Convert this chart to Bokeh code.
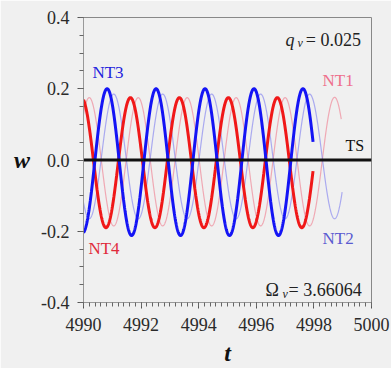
import numpy as np
from bokeh.plotting import figure
from bokeh.models import FixedTicker, Range1d
from bokeh.core.properties import value
from bokeh.embed import file_html
from bokeh.resources import INLINE

# ---- data: extrema (time, w) of each response ----
nt3_t = [4989.97, 4990.82, 4991.67, 4992.52, 4993.37, 4994.22, 4995.07, 4995.92, 4996.77, 4997.62, 4998.47]
nt3_w = [-0.205, 0.200, -0.212, 0.200, -0.212, 0.200, -0.212, 0.200, -0.212, 0.200, -0.210]
nt3_range = [4990.0, 4997.97]

nt4_t = [4989.93, 4990.78, 4991.63, 4992.48, 4993.33, 4994.18, 4995.03, 4995.88, 4996.73, 4997.58, 4998.43]
nt4_w = [0.175, -0.190, 0.175, -0.190, 0.175, -0.190, 0.175, -0.190, 0.175, -0.190, 0.175]
nt4_range = [4990.0, 4997.97]

nt1_t = [4989.35, 4990.20, 4991.05, 4991.90, 4992.75, 4993.60, 4994.45, 4995.30, 4996.15, 4997.00, 4997.85, 4998.72, 4999.57]
nt1_w = [-0.185, 0.175, -0.185, 0.175, -0.185, 0.175, -0.185, 0.175, -0.185, 0.175, -0.185, 0.176, -0.185]
nt1_range = [4990.0, 4998.95]

nt2_t = [4989.35, 4990.20, 4991.05, 4991.90, 4992.75, 4993.60, 4994.45, 4995.30, 4996.15, 4997.00, 4997.85, 4998.72, 4999.57]
nt2_w = [0.185, -0.165, 0.185, -0.165, 0.185, -0.165, 0.185, -0.165, 0.185, -0.165, 0.185, -0.165, 0.185]
nt2_range = [4990.0, 4998.98]

ts_t = [4990.0, 5000.0]
ts_w = [0.0, 0.0]

x_ticks = [4990, 4992, 4994, 4996, 4998, 5000]
y_ticks = [-0.4, -0.2, 0.0, 0.2, 0.4]
y_tick_labels = {-0.4: "-0.4", -0.2: "-0.2", 0.0: "0.0", 0.2: "0.2", 0.4: "0.4"}
q_v = "0.025"
omega_v = "3.66064"


def smooth(ext_t, ext_w, t_range, n=900):
    et = np.asarray(ext_t)
    ew = np.asarray(ext_w)
    t = np.linspace(t_range[0], t_range[1], n)
    i = np.clip(np.searchsorted(et, t) - 1, 0, len(et) - 2)
    s = (t - et[i]) / (et[i + 1] - et[i])
    w = ew[i] + (ew[i + 1] - ew[i]) * (1 - np.cos(np.pi * s)) / 2
    return t, w


BG = "#f0f0f0"
SERIF = "Liberation Serif"

p = figure(width=391, height=368, output_backend="svg", toolbar_location=None,
           x_range=Range1d(4990, 5000), y_range=Range1d(-0.4, 0.4),
           min_border_left=83, min_border_right=20, min_border_top=17, min_border_bottom=66)
p.background_fill_color = BG
p.border_fill_color = BG
p.outline_line_color = "#888888"
p.grid.visible = False

# curves
t, w = smooth(nt1_t, nt1_w, nt1_range)
p.line(t, w, line_color="#f08a9a", line_width=1.2, line_alpha=0.7)
t, w = smooth(nt2_t, nt2_w, nt2_range)
p.line(t, w, line_color="#8c8cf0", line_width=1.2, line_alpha=0.7)
t, w = smooth(nt4_t, nt4_w, nt4_range)
p.line(t, w, line_color="#f01818", line_width=3)
t, w = smooth(nt3_t, nt3_w, nt3_range)
p.line(t, w, line_color="#1414f5", line_width=3)
p.line(ts_t, ts_w, line_color="#111111", line_width=3)

# axes
p.xaxis.ticker = FixedTicker(ticks=x_ticks,
                             minor_ticks=list(np.round(np.arange(4990, 5000.01, 0.2), 2)))
p.yaxis.ticker = FixedTicker(ticks=y_ticks,
                             minor_ticks=list(np.round(np.arange(-0.4, 0.401, 0.05), 3)))
p.yaxis.major_label_overrides = y_tick_labels
for ax in (p.xaxis[0], p.yaxis[0]):
    ax.axis_line_color = "#999999"
    ax.major_tick_line_color = "#555555"
    ax.minor_tick_line_color = "#666666"
    ax.major_tick_in = 0
    ax.major_tick_out = 6
    ax.minor_tick_in = 0
    ax.minor_tick_out = 4
    ax.major_label_text_font = SERIF
    ax.major_label_text_font_size = "18px"
    ax.major_label_text_color = "#2a2a2a"
    ax.axis_label_text_font = SERIF
    ax.axis_label_text_font_style = "bold italic"
    ax.axis_label_text_font_size = "24px"
    ax.axis_label_text_color = "#111111"
p.xaxis.major_label_standoff = 9
p.yaxis.major_label_standoff = 8
p.xaxis.axis_label = "t"
p.xaxis.axis_label_standoff = 6
p.yaxis.axis_label = "w"
p.yaxis.axis_label_standoff = 8
p.yaxis.axis_label_orientation = "horizontal"

# annotations
F = value(SERIF)
p.text(x=[4990.31], y=[0.246], text=["NT3"], text_font=F, text_font_size="17px",
       text_color="#2323dd", text_baseline="middle")
p.text(x=[4990.17], y=[-0.248], text=["NT4"], text_font=F, text_font_size="17px",
       text_color="#e02a3a", text_baseline="middle")
p.text(x=[4998.30], y=[0.223], text=["NT1"], text_font=F, text_font_size="17px",
       text_color="#ee6f8c", text_baseline="middle")
p.text(x=[4998.30], y=[-0.22], text=["NT2"], text_font=F, text_font_size="17px",
       text_color="#5a5ad0", text_baseline="middle")
p.text(x=[4999.10], y=[0.04], text=["TS"], text_font=F, text_font_size="16px",
       text_color="#111111", text_baseline="middle")

p.text(x=[4997.01], y=[0.338], text=["q"], text_font=F, text_font_size="18px",
       text_font_style="italic", text_color="#222222", text_baseline="alphabetic")
p.text(x=[4997.43], y=[0.328], text=["v"], text_font=F, text_font_size="12px",
       text_font_style="italic", text_color="#222222", text_baseline="alphabetic")
p.text(x=[4997.72], y=[0.338], text=["= " + q_v], text_font=F, text_font_size="18px",
       text_color="#222222", text_baseline="alphabetic")

p.text(x=[4996.32], y=[-0.366], text=["Ω"], text_font=F, text_font_size="18px",
       text_color="#222222", text_baseline="alphabetic")
p.text(x=[4996.91], y=[-0.376], text=["v"], text_font=F, text_font_size="12px",
       text_font_style="italic", text_color="#222222", text_baseline="alphabetic")
p.text(x=[4997.12], y=[-0.366], text=["= " + omega_v], text_font=F, text_font_size="18px",
       text_color="#222222", text_baseline="alphabetic")

open("out.html", "w").write(file_html(p, INLINE))
